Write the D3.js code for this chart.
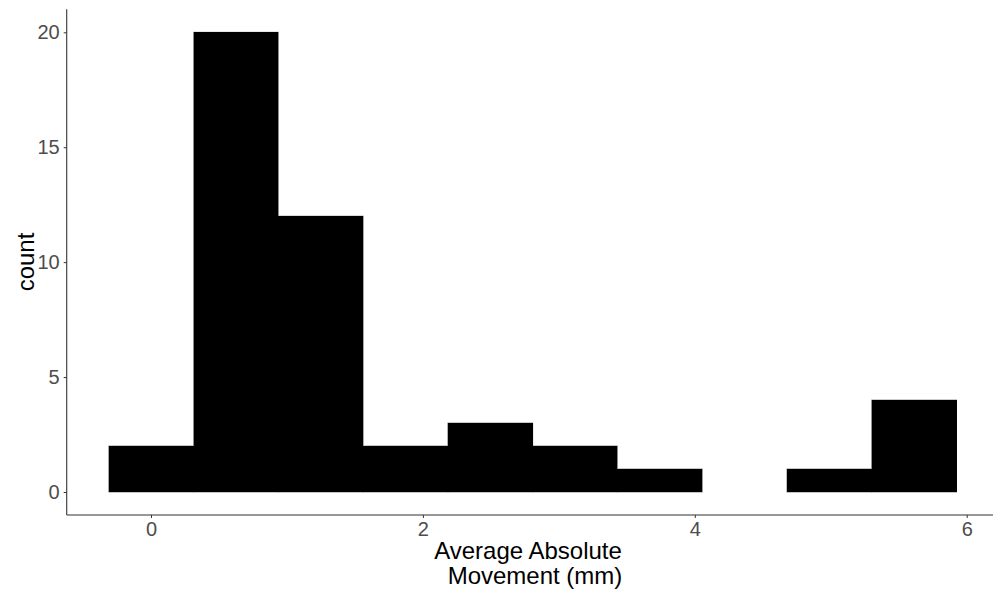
<!DOCTYPE html>
<html>
<head>
<meta charset="utf-8">
<script src="https://cdn.jsdelivr.net/npm/d3@7"></script>
<style>
  body { margin: 0; background: #fff; }
  svg { display: block; font-family: "Liberation Sans", Arial, sans-serif; }
</style>
</head>
<body>
<div id="chart-area"></div>
<script>
// histogram bins (mm) and counts
const binEdges = [-0.31, 0.3135, 0.937, 1.5605, 2.184, 2.8075, 3.431, 4.0545, 4.678, 5.3015, 5.925];
const counts = [2, 20, 12, 2, 3, 2, 1, 0, 1, 4];
const xTicks = [0, 2, 4, 6];
const yTicks = [0, 5, 10, 15, 20];

const width = 994, height = 590;

const svg = d3.select('#chart-area')
    .append('svg')
    .attr('width', width)
    .attr('height', height);

// scales
const x = d3.scaleLinear().domain([0, 6]).range([151, 966.7]);
const y = d3.scaleLinear().domain([0, 20]).range([492, 32.3]);

const xLeft = x(-0.62), xRight = 993;
const yTop = y(21), yBottom = y(-1);

const bins = counts.map((c, i) => ({ x0: binEdges[i], x1: binEdges[i + 1], count: c }))
    .filter(d => d.count > 0);

// bars: grey outline pass, then black fill on top so inner edges vanish
['outline', 'fill'].forEach(pass => {
    svg.append('g')
        .attr('shape-rendering', pass === 'fill' ? 'crispEdges' : 'auto')
        .selectAll('rect')
        .data(bins)
        .enter().append('rect')
        .attr('x', d => x(d.x0))
        .attr('y', d => y(d.count))
        .attr('width', d => x(d.x1) - x(d.x0))
        .attr('height', d => y(0) - y(d.count))
        .attr('fill', '#000')
        .attr('stroke', pass === 'outline' ? '#8a8a8a' : 'none')
        .attr('stroke-width', 1);
});

// X axis
const xAxisCall = d3.axisBottom(x).tickValues(xTicks).tickSize(3).tickPadding(4).tickFormat(d3.format('d'));
const xAxisGroup = svg.append('g')
    .attr('transform', 'translate(0,' + yBottom + ')')
    .call(xAxisCall);
xAxisGroup.select('.domain').remove();
xAxisGroup.append('line')
    .attr('x1', xLeft).attr('x2', xRight)
    .attr('stroke', '#333').attr('stroke-width', 1.1);

// Y axis
const yAxisCall = d3.axisLeft(y).tickValues(yTicks).tickSize(3).tickPadding(4).tickFormat(d3.format('d'));
const yAxisGroup = svg.append('g')
    .attr('transform', 'translate(' + xLeft + ',0)')
    .call(yAxisCall);
yAxisGroup.select('.domain').remove();
yAxisGroup.append('line')
    .attr('y1', yTop).attr('y2', yBottom)
    .attr('stroke', '#333').attr('stroke-width', 1.1);

svg.selectAll('.tick line').attr('stroke', '#333').attr('stroke-width', 1);
svg.selectAll('.tick text')
    .attr('fill', '#4d4d4d')
    .style('font-size', '20px')
    .style('font-family', '"Liberation Sans", Arial, sans-serif');

// axis titles
const xTitle = svg.append('text')
    .attr('text-anchor', 'middle')
    .style('font-size', '24px')
    .attr('fill', '#000');
xTitle.append('tspan').attr('x', 528).attr('y', 559).text('Average Absolute');
xTitle.append('tspan').attr('x', 535).attr('y', 584).text('Movement (mm)');

svg.append('text')
    .attr('transform', 'translate(34,262) rotate(-90)')
    .attr('text-anchor', 'middle')
    .style('font-size', '24px')
    .attr('fill', '#000')
    .text('count');
</script>
</body>
</html>
